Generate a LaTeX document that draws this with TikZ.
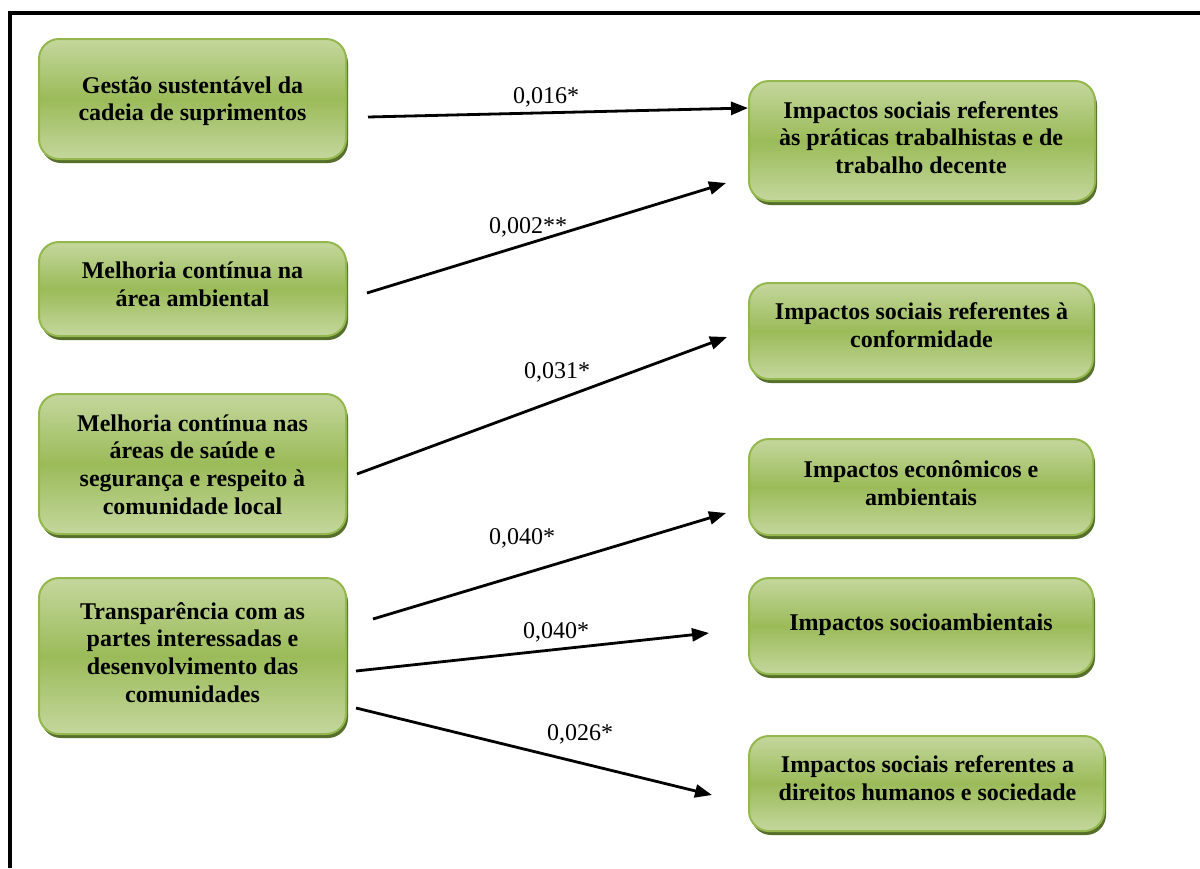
\documentclass[tikz,border=0pt]{standalone}
\usepackage{fontspec}
\setmainfont{Liberation Serif}
\usetikzlibrary{arrows.meta,shadows}
\definecolor{gtop}{RGB}{196,215,157}
\definecolor{gmid}{RGB}{155,187,89}
\definecolor{gborder}{RGB}{148,184,78}
\definecolor{gshadow}{RGB}{86,112,44}
\begin{document}
\begin{tikzpicture}[x=1pt,y=-1pt,
  box/.style={rectangle, rounded corners=20pt, draw=gborder, line width=2pt,
    top color=gtop, bottom color=gtop, middle color=gmid, inner sep=0pt,
    drop shadow={shadow xshift=2pt, shadow yshift=-4pt, fill=gshadow, opacity=1}},
  boxtext/.style={anchor=base, align=center, inner sep=0pt,
    font=\bfseries\fontsize{24}{27.6}\selectfont},
  lbl/.style={anchor=base west, inner sep=0pt, font=\fontsize{24}{27.6}\selectfont},
  conn/.style={line width=2.8pt, -{Triangle[length=17pt,width=13pt]}}]
\useasboundingbox (0,0) rectangle (1200,868);
% frame
\draw[line width=4pt] (9.5,868) -- (9.5,13) -- (1200,13);

% left boxes
\node[box, minimum width=307pt, minimum height=120pt] (L1) at (192.5,99) {};
\node[box, minimum width=307pt, minimum height=94pt] (L2) at (192.5,289) {};
\node[box, minimum width=307pt, minimum height=140pt] (L3) at (192.5,464) {};
\node[box, minimum width=307pt, minimum height=156pt] (L4) at (192.5,656) {};
% right boxes
\node[box, minimum width=346pt, minimum height=120pt] (R1) at (922,141) {};
\node[box, minimum width=344pt, minimum height=96pt] (R2) at (921,331) {};
\node[box, minimum width=344pt, minimum height=96pt] (R3) at (921,487) {};
\node[box, minimum width=344pt, minimum height=96pt] (R4) at (921,626) {};
\node[box, minimum width=355pt, minimum height=95pt] (R5) at (926.5,783.5) {};

% texts (anchored at the baseline of their last line)
\node[boxtext] (L1t) at (192.5,120.7) {Gestão sustentável da\\cadeia de suprimentos};
\node[boxtext] (L2t) at (192.5,306.5) {Melhoria contínua na\\área ambiental};
\node[boxtext] (L3t) at (192.5,514) {Melhoria contínua nas\\áreas de saúde e\\segurança e respeito à\\comunidade local};
\node[boxtext] (L4t) at (192.5,702) {Transparência com as\\partes interessadas e\\desenvolvimento das\\comunidades};
\node[boxtext] (R1t) at (921,173.5) {Impactos sociais referentes\\às práticas trabalhistas e de\\trabalho decente};
\node[boxtext] (R2t) at (921.5,347) {Impactos sociais referentes à\\conformidade};
\node[boxtext] (R3t) at (921,505) {Impactos econômicos e\\ambientais};
\node[boxtext] (R4t) at (921,630) {Impactos socioambientais};
\node[boxtext] (R5t) at (927.5,800) {Impactos sociais referentes a\\direitos humanos e sociedade};

% connector ends
\coordinate (s1) at (368,117);  \coordinate (e1) at (748,108);
\coordinate (s2) at (367,293);  \coordinate (e2) at (726,183);
\coordinate (s3) at (357,474);  \coordinate (e3) at (727,337);
\coordinate (s4) at (373,619);  \coordinate (e4) at (726,513);
\coordinate (s5) at (356,671);  \coordinate (e5) at (709,633);
\coordinate (s6) at (356,708);  \coordinate (e6) at (712,795);

\draw[conn] (s1) -- (e1);
\draw[conn] (s2) -- (e2);
\draw[conn] (s3) -- (e3);
\draw[conn] (s4) -- (e4);
\draw[conn] (s5) -- (e5);
\draw[conn] (s6) -- (e6);

% labels
\node[lbl] (k1) at (513,103) {0,016*};
\node[lbl] (k2) at (489,233) {0,002**};
\node[lbl] (k3) at (524,378) {0,031*};
\node[lbl] (k4) at (489,544) {0,040*};
\node[lbl] (k5) at (523,638) {0,040*};
\node[lbl] (k6) at (547,740) {0,026*};
\end{tikzpicture}
\end{document}
